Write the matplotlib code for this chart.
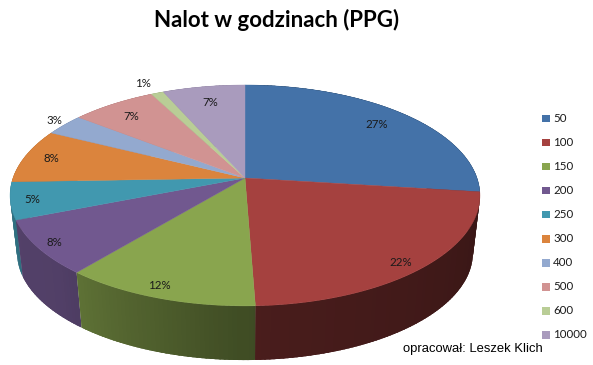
import numpy as np
import matplotlib
matplotlib.use("Agg")
import matplotlib.pyplot as plt
from matplotlib.patches import Polygon, Rectangle
from matplotlib.colors import to_rgb

categories = ["50", "100", "150", "200", "250", "300", "400", "500", "600", "10000"]
shares = [27.0, 22.4, 11.6, 8.0, 5.45, 7.95, 3.2, 6.8, 1.0, 6.6]
colors = ["#4472A8", "#A5413F", "#89A54E", "#71588F", "#4198AF",
          "#DB843D", "#93A9CF", "#D19392", "#B9CD96", "#A99BBD"]
# percent label placement: distance from centre and nudge along the rim
label_r = [0.82, 0.92, 0.92, 0.93, 0.91, 0.88, 1.07, 0.83, 1.14, 0.81]
label_da = [0, 2, 1.5, 0, -0.5, 0, 0.5, -1, -1, 0]

# pie is a perspective view of a circle, everything in image pixels
CX, CY = 245, 178
A, B, K = 232, 107.7, 0.158
BASE_Y, BASE_S = 236, 0.97


def project(deg, r=1.0, y0=CY, s=1.0):
    t = np.radians(deg)
    u, v = r * np.sin(t), r * np.cos(t)
    w = 1 + K * v
    return CX + s * A * u / w, y0 - s * B * v / w


def side_shade(deg):
    return np.interp(deg, [90, 176, 225, 262, 280], [0.33, 0.44, 0.72, 0.74, 0.74])


fig = plt.figure(figsize=(5.93, 3.65), dpi=100)
ax = fig.add_axes([0, 0, 1, 1])
ax.set_xlim(0, 593)
ax.set_ylim(365, 0)
ax.axis("off")

edges = np.concatenate([[0], np.cumsum(shares)]) / sum(shares) * 360

# walls back to front, strips overlap a little inside a slice to hide seams
walls = []
for i, col in enumerate(colors):
    a = np.append(np.arange(edges[i], edges[i + 1], 1.0), edges[i + 1])
    for a0, a1 in zip(a[:-1], a[1:]):
        lo = max(a0 - 0.7, edges[i])
        hi = min(a1 + 0.7, edges[i + 1])
        walls.append((abs((a0 + a1) / 2 - 180), lo, hi, col))
walls.sort(key=lambda w: -w[0])
for dist, lo, hi, col in walls:
    x0, y0 = project(lo)
    x1, y1 = project(hi)
    x2, y2 = project(hi, y0=BASE_Y, s=BASE_S)
    x3, y3 = project(lo, y0=BASE_Y, s=BASE_S)
    c = np.array(to_rgb(col)) * side_shade((lo + hi) / 2)
    ax.add_patch(Polygon([(x0, y0), (x1, y1), (x2, y2), (x3, y3)],
                         facecolor=c, edgecolor="none"))

for i, col in enumerate(colors):
    a = np.linspace(edges[i], edges[i + 1], 80)
    x, y = project(a)
    pts = [(CX, CY)] + list(zip(x, y))
    ax.add_patch(Polygon(pts, facecolor=col, edgecolor=col, lw=0.3))

for i, val in enumerate(shares):
    mid = (edges[i] + edges[i + 1]) / 2 + label_da[i]
    x, y = project(mid, r=label_r[i])
    ax.text(x, y, "%d%%" % round(val), ha="center", va="center",
            fontsize=8.3, family="Lato", color="#1a1a1a")

for i, cat in enumerate(categories):
    y = 118 + 24.1 * i
    ax.add_patch(Rectangle((542, y - 3.5), 7.5, 7.5, facecolor=colors[i], edgecolor="none"))
    ax.text(553, y, cat, ha="left", va="center", fontsize=8.3, family="Lato", color="#1a1a1a")

ax.text(277, 20, "Nalot w godzinach (PPG)", ha="center", va="center",
        fontsize=16, family="Lato", weight="bold", color="black")
ax.text(403, 349, "opracował: Leszek Klich", ha="left", va="center",
        fontsize=9.4, family="Liberation Sans", color="black")

fig.savefig("out.png", dpi=100)
